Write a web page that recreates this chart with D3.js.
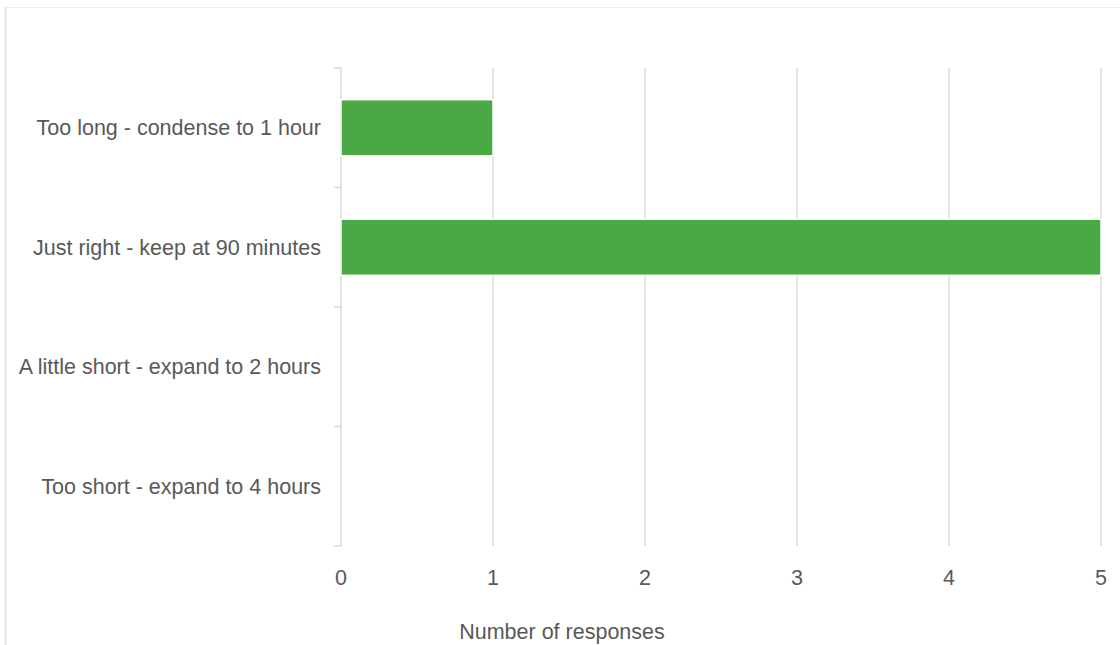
<!DOCTYPE html>
<html><head><meta charset="utf-8">
<script src="https://cdn.jsdelivr.net/npm/d3@7"></script>
<style>body{margin:0;background:#fff}svg{display:block}text{font-family:"Liberation Sans",Arial,sans-serif;fill:#595959}</style>
</head><body>
<script>
const categories = ["Too long - condense to 1 hour","Just right - keep at 90 minutes","A little short - expand to 2 hours","Too short - expand to 4 hours"];
const values = [1,5,0,0];
const xTicks = [0,1,2,3,4,5];
const xTitle = "Number of responses";

const W=1120,H=645;
const m={l:341,r:1101,t:68,b:546};
const FS=21.5;
const svg=d3.select("body").append("svg").attr("width",W).attr("height",H);
// frame
svg.append("line").attr("x1",5.5).attr("x2",W).attr("y1",7.5).attr("y2",7.5).attr("stroke","#ececec").attr("stroke-width",1);
svg.append("line").attr("x1",5.5).attr("x2",5.5).attr("y1",7.5).attr("y2",H).attr("stroke","#dedede").attr("stroke-width",1.5);

const x=d3.scaleLinear().domain([0,5]).range([m.l,m.r]);
const y=d3.scaleBand().domain(categories).range([m.t,m.b]).paddingInner(0.53).paddingOuter(0.265);
const band=d3.scaleBand().domain(categories).range([m.t,m.b]);

// gridlines
svg.append("g").selectAll("line").data(xTicks).join("line")
 .attr("x1",d=>x(d)).attr("x2",d=>x(d)).attr("y1",m.t).attr("y2",m.b)
 .attr("stroke","#d9d9d9").attr("stroke-width",1.5);
// y axis ticks
const bounds=categories.map(c=>band(c)).concat([m.b]);
svg.append("g").selectAll("line").data(bounds).join("line")
 .attr("x1",m.l-7).attr("x2",m.l).attr("y1",d=>d).attr("y2",d=>d)
 .attr("stroke","#d9d9d9").attr("stroke-width",1.5);

// bars
svg.append("g").selectAll("rect").data(categories.map((c,i)=>({c,v:values[i]})).filter(d=>d.v>0)).join("rect")
 .attr("x",x(0)).attr("y",d=>y(d.c)).attr("width",d=>x(d.v)-x(0)).attr("height",y.bandwidth())
 .attr("fill","#4aa845").attr("stroke","#fff").attr("stroke-width",1.5);

// category labels
svg.append("g").selectAll("text").data(categories).join("text")
 .attr("x",321).attr("y",d=>band(d)+band.bandwidth()/2).attr("dy","0.35em")
 .attr("text-anchor","end").attr("font-size",FS).text(d=>d);
// x tick labels
svg.append("g").selectAll("text").data(xTicks).join("text")
 .attr("x",d=>x(d)).attr("y",577).attr("dy","0.35em").attr("text-anchor","middle").attr("font-size",FS).text(d=>d);
// title
svg.append("text").attr("x",562).attr("y",631).attr("dy","0.35em").attr("text-anchor","middle").attr("font-size",FS).text(xTitle);
</script>
</body></html>
